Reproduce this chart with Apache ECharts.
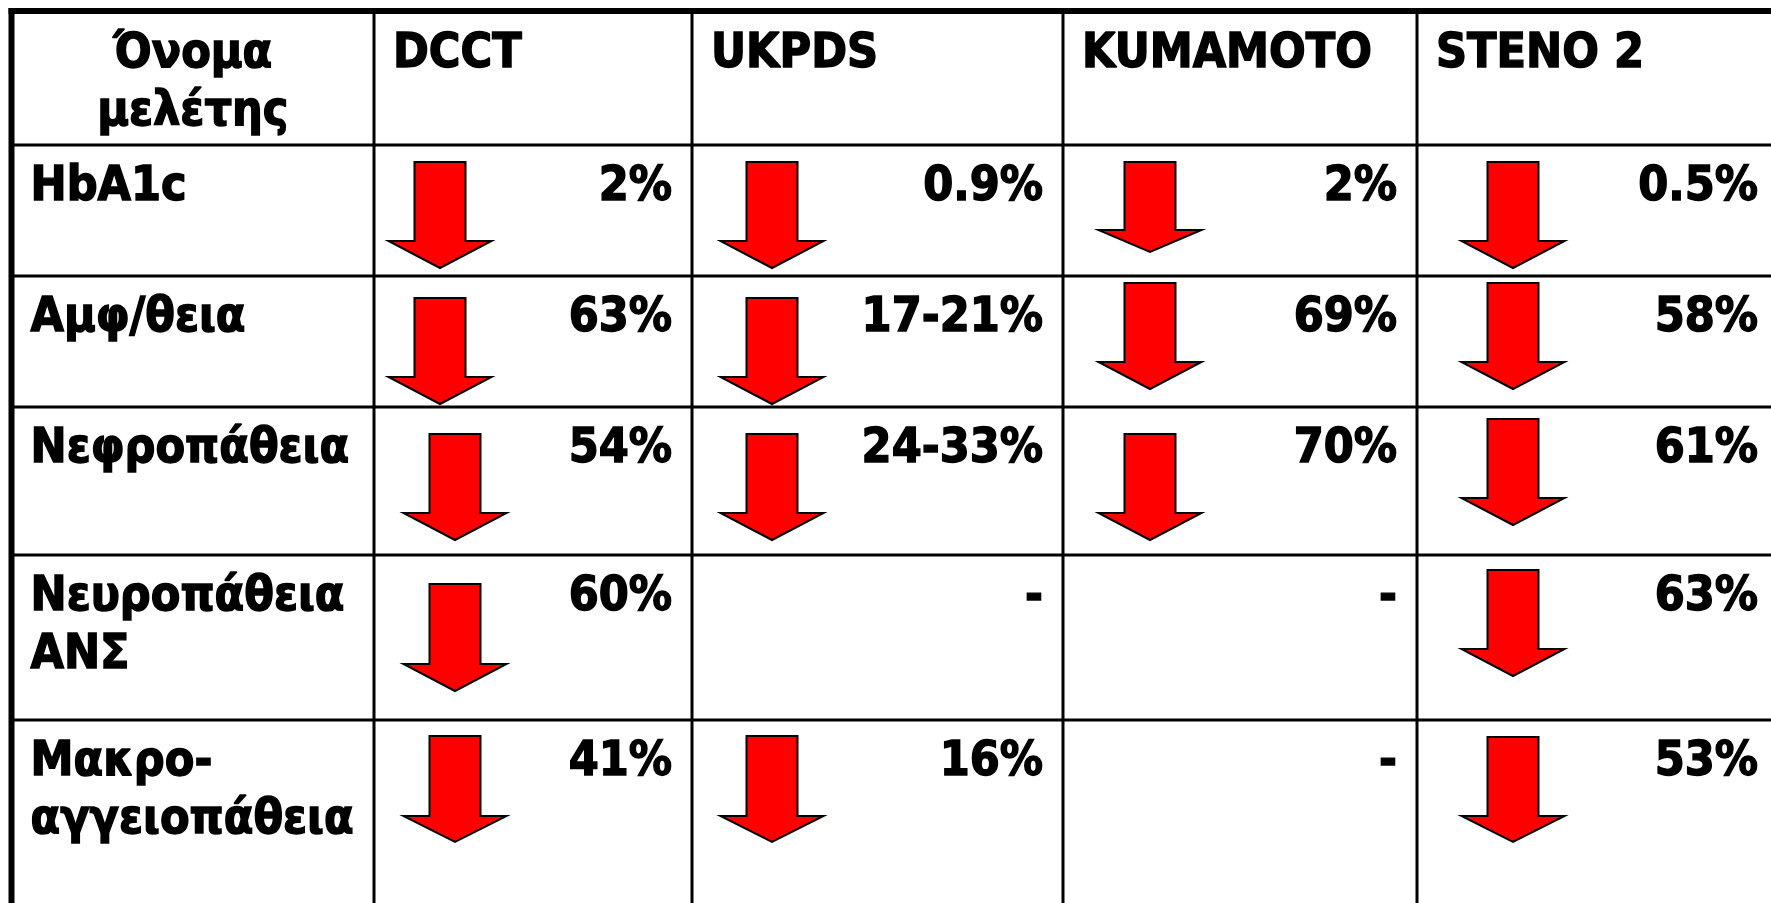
<!DOCTYPE html>
<html>
<head>
<meta charset="UTF-8">
<title>Μελέτες γλυκαιμικού ελέγχου</title>
<script src="https://cdn.jsdelivr.net/npm/echarts@6.0.0/dist/echarts.min.js"></script>
<style>
  html, body { margin: 0; padding: 0; background: #fff; }
</style>
</head>
<body>
<div id="main" style="width:1771px;height:903px;"></div>
<script type="text/javascript">
// table content
var headerLabel = 'Όνομα\nμελέτης';
var studies = ['DCCT', 'UKPDS', 'KUMAMOTO', 'STENO 2'];
var outcomes = ['HbA1c', 'Αμφ/θεια', 'Νεφροπάθεια', 'Νευροπάθεια\nΑΝΣ', 'Μακρο-\nαγγειοπάθεια'];
var dcct = ['2%', '63%', '54%', '60%', '41%'];
var ukpds = ['0.9%', '17-21%', '24-33%', '-', '16%'];
var kumamoto = ['2%', '69%', '70%', '-', '-'];
var steno2 = ['0.5%', '58%', '61%', '63%', '53%'];
var reductions = [dcct, ukpds, kumamoto, steno2];

// layout (axis units = page pixels)
var colEdges = [11.5, 374, 692, 1063, 1417, 1778];
var rowEdges = [11, 145, 276, 407, 555, 720, 960];
// arrow placement inside each cell: [dx of centre, dy of top, shaft length, head length]
var arrowPlace = [
  [[66, 17, 79, 27], [66, 22, 79, 27], [81, 27, 79, 27], [81, 29, 80, 27], [81, 16, 80, 26]],
  [[80, 17, 79, 27], [80, 22, 79, 27], [80, 27, 79, 27], null, [80, 16, 80, 26]],
  [[87, 17, 68, 22], [87, 7, 79, 27], [87, 27, 79, 27], null, null],
  [[96, 17, 79, 27], [96, 7, 79, 27], [96, 12, 79, 27], [96, 15, 79, 27], [96, 17, 79, 26]]
];

var FONT = "'DejaVu Sans Condensed', 'DejaVu Sans', sans-serif";
var textStyle = {
  fill: '#000', fontSize: 48, fontWeight: 'bold', fontFamily: FONT, lineHeight: 58,
  stroke: '#000', lineWidth: 1.4
};

var cellData = [];
cellData.push([0, 0, headerLabel, 'center']);
studies.forEach(function (s, i) { cellData.push([i + 1, 0, s, 'left']); });
outcomes.forEach(function (o, r) {
  cellData.push([0, r + 1, o, 'left']);
  reductions.forEach(function (vals, c) {
    cellData.push([c + 1, r + 1, vals[r], 'right']);
  });
});

function renderCell(params, api) {
  var c = api.value(0), r = api.value(1);
  var item = cellData[params.dataIndex];
  var tl = api.coord([colEdges[c], rowEdges[r]]);
  var br = api.coord([colEdges[c + 1], rowEdges[r + 1]]);
  var children = [];
  var tx = item[3] === 'center' ? (tl[0] + br[0]) / 2 : item[3] === 'left' ? tl[0] + 19 : br[0] - 20;
  children.push({
    type: 'text',
    x: tx,
    y: tl[1] + (r === 0 ? 15 : 14),
    style: Object.assign({ text: item[2], align: item[3], verticalAlign: 'top' }, textStyle)
  });
  if (r > 0 && c > 0 && item[2] !== '-') {
    var p = arrowPlace[c - 1][r - 1];
    if (p) {
      var cx = tl[0] + p[0], top = tl[1] + p[1], hs = top + p[2], tip = hs + p[3];
      children.push({
        type: 'polygon',
        shape: {
          points: [[cx - 25.5, top], [cx + 25.5, top], [cx + 25.5, hs], [cx + 51.5, hs],
                   [cx, tip], [cx - 51.5, hs], [cx - 25.5, hs]]
        },
        style: { fill: '#ff0000', stroke: '#000', lineWidth: 2, lineJoin: 'miter' }
      });
    }
  }
  return { type: 'group', children: children };
}

function renderRules(params, api) {
  var lines = [];
  var right = api.coord([1771, 0])[0], bottom = api.coord([0, 903])[1];
  for (var i = 1; i < rowEdges.length - 1; i++) {
    var y = api.coord([0, rowEdges[i]])[1];
    lines.push({ type: 'line', shape: { x1: api.coord([colEdges[0], 0])[0], y1: y, x2: right, y2: y },
      style: { stroke: '#000', lineWidth: 3 } });
  }
  for (var j = 1; j < colEdges.length - 1; j++) {
    var x = api.coord([colEdges[j], 0])[0];
    lines.push({ type: 'line', shape: { x1: x, y1: api.coord([0, rowEdges[0]])[1], x2: x, y2: bottom },
      style: { stroke: '#000', lineWidth: 3 } });
  }
  var o = api.coord([colEdges[0], rowEdges[0]]);
  lines.push({ type: 'line', shape: { x1: o[0] - 3, y1: o[1], x2: right, y2: o[1] }, style: { stroke: '#000', lineWidth: 6 } });
  lines.push({ type: 'line', shape: { x1: o[0], y1: o[1] - 3, x2: o[0], y2: bottom }, style: { stroke: '#000', lineWidth: 6 } });
  return { type: 'group', children: lines };
}

var myChart = echarts.init(document.getElementById('main'));
myChart.setOption({
  backgroundColor: '#fff',
  animation: false,
  grid: { left: 0, right: 0, top: 0, bottom: 0 },
  xAxis: { type: 'value', min: 0, max: 1771, show: false },
  yAxis: { type: 'value', min: 0, max: 903, inverse: true, show: false },
  series: [{
    type: 'custom',
    name: 'rules',
    silent: true,
    renderItem: renderRules,
    data: [[0, 0]]
  }, {
    type: 'custom',
    name: 'cells',
    silent: true,
    renderItem: renderCell,
    data: cellData.map(function (d) { return [d[0], d[1]]; })
  }]
});
</script>
</body>
</html>
